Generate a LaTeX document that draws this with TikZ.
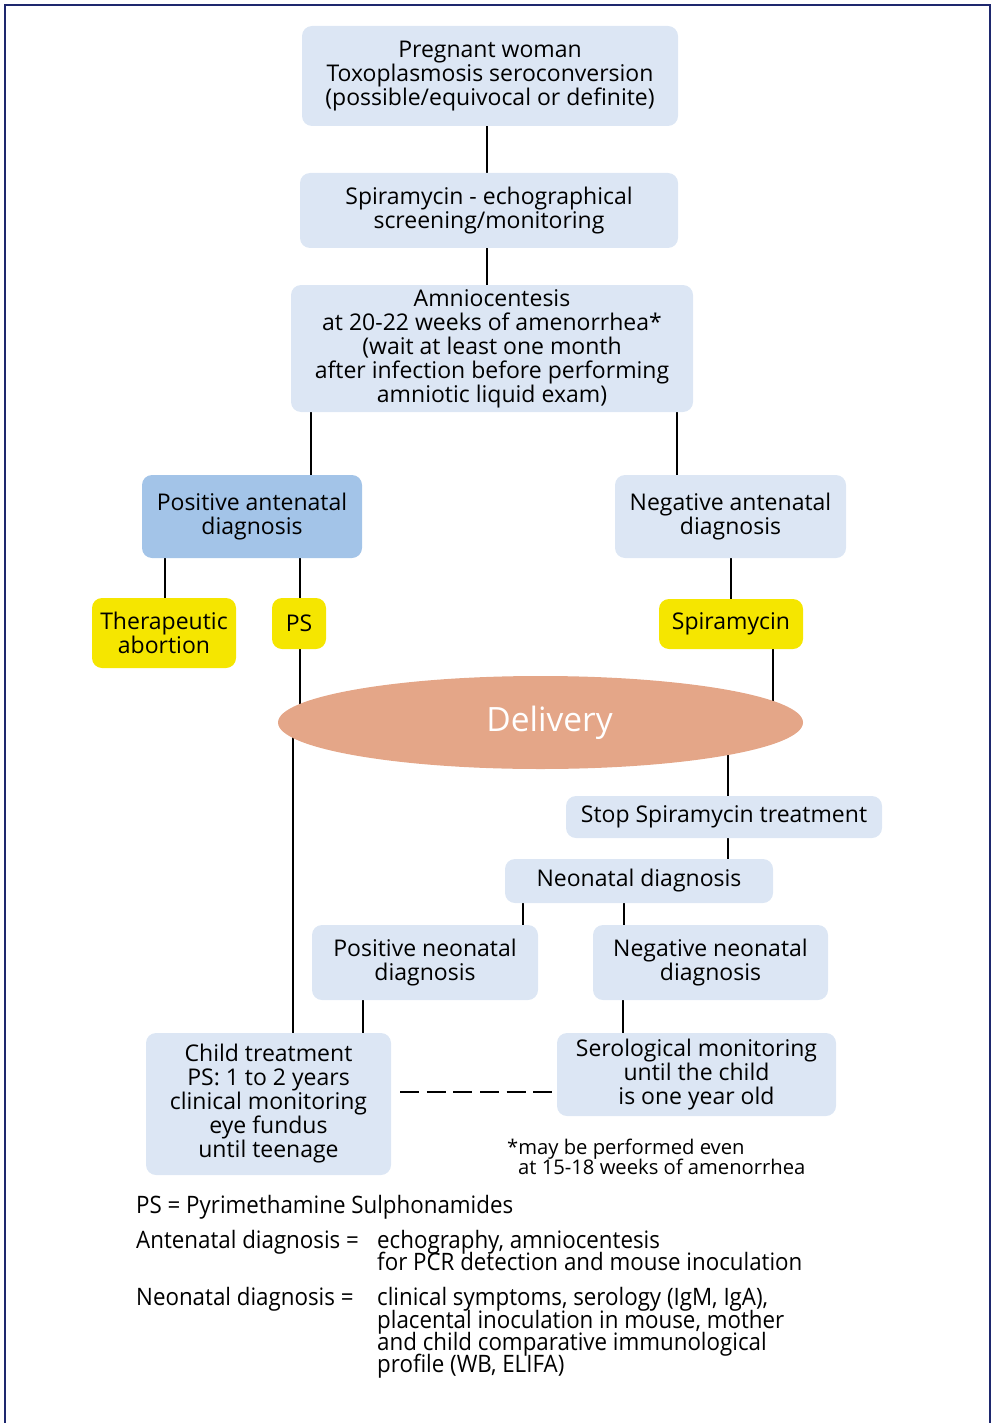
\documentclass[tikz,border=0pt]{standalone}
\usepackage{fontspec}
\setmainfont{Open Sans}
\newfontfamily\legendfont{Open Sans}[FakeStretch=0.93]
\usetikzlibrary{shapes.geometric}
\pgfdeclarelayer{background}
\pgfsetlayers{background,main}
\definecolor{lblue}{RGB}{220,230,244}
\definecolor{mblue}{RGB}{163,196,232}
\definecolor{yel}{RGB}{245,230,0}
\definecolor{salmon}{RGB}{228,166,136}
\definecolor{navy}{RGB}{30,40,110}
\begin{document}
\begin{tikzpicture}[x=1pt,y=-1pt,
  box/.style={fill=lblue, rounded corners=10pt, align=center, inner sep=0pt,
    font=\fontsize{23}{24}\selectfont},
  pbox/.style={box, fill=mblue},
  ybox/.style={box, fill=yel},
  conn/.style={draw=black, line width=1.8pt},
  legtext/.style={anchor=base west, inner sep=0pt, font=\legendfont\fontsize{24}{22.5}\selectfont},
  notetext/.style={anchor=base west, inner sep=0pt, font=\fontsize{20.2}{20}\selectfont}
]
\useasboundingbox (0,0) rectangle (995,1423);
\draw[navy, line width=1.6pt] (5,1430) -- (5,5) -- (990,5) -- (990,1430);

% boxes
\node[box, minimum width=376pt, minimum height=100pt] (b1) at (490,76)
  {Pregnant woman\\Toxoplasmosis seroconversion\\(possible/equivocal or definite)};
\node[box, minimum width=378pt, minimum height=75pt] (b2) at (489,210.5)
  {Spiramycin - echographical\\screening/monitoring};
\node[box, minimum width=402pt, minimum height=127pt] (b3) at (492,348.5)
  {Amniocentesis\\at 20-22 weeks of amenorrhea*\\(wait at least one month\\after infection before performing\\amniotic liquid exam)};
\node[pbox, minimum width=220pt, minimum height=83pt] (pos) at (252,516.5)
  {Positive antenatal\\diagnosis};
\node[box, minimum width=231pt, minimum height=83pt] (neg) at (730.5,516.5)
  {Negative antenatal\\diagnosis};
\node[ybox, minimum width=144pt, minimum height=70pt] (ta) at (164,633)
  {Therapeutic\\abortion};
\node[ybox, minimum width=54pt, minimum height=51pt] (ps) at (299,623.5) {PS};
\node[ybox, minimum width=144pt, minimum height=50pt] (spi) at (731,624) {Spiramycin};
\node[ellipse, fill=salmon, minimum width=525pt, minimum height=93pt, inner sep=0pt,
  text=white, font=\fontsize{33.5}{36}\selectfont] (del) at (540.5,722.5) {\hspace{18pt}Delivery};
\node[box, minimum width=316pt, minimum height=42pt] (stop) at (724,817)
  {Stop Spiramycin treatment};
\node[box, minimum width=268pt, minimum height=44pt] (neo) at (639,881)
  {Neonatal diagnosis};
\node[box, minimum width=226pt, minimum height=75pt] (pneo) at (425,962.5)
  {Positive neonatal\\diagnosis};
\node[box, minimum width=235pt, minimum height=75pt] (nneo) at (710.5,962.5)
  {Negative neonatal\\diagnosis};
\node[box, minimum width=245pt, minimum height=142pt] (child) at (268.5,1104)
  {Child treatment\\PS: 1 to 2 years\\clinical monitoring\\eye fundus\\until teenage};
\node[box, minimum width=279pt, minimum height=83pt] (sero) at (696.5,1074.5)
  {Serological monitoring\\until the child\\is one year old};

% x positions of connectors
\coordinate (x487) at (487,0);
\coordinate (x311) at (311,0);
\coordinate (x677) at (677,0);
\coordinate (x165) at (165,0);
\coordinate (x300) at (300,0);
\coordinate (x731) at (731,0);
\coordinate (x773) at (773,0);
\coordinate (x293) at (293,0);
\coordinate (x728) at (728,0);
\coordinate (x523) at (523,0);
\coordinate (x624) at (624,0);
\coordinate (x363) at (363,0);
\coordinate (x623) at (623,0);
\coordinate (y1092) at (0,1092);

\begin{pgfonlayer}{background}
\draw[conn] (b1.south -| x487) -- (b2.north -| x487);
\draw[conn] (b2.south -| x487) -- (b3.north -| x487);
\draw[conn] (b3.south -| x311) -- (pos.north -| x311);
\draw[conn] (b3.south -| x677) -- (neg.north -| x677);
\draw[conn] (pos.south -| x165) -- (ta.north -| x165);
\draw[conn] (pos.south -| x300) -- (ps.north -| x300);
\draw[conn] (neg.south -| x731) -- (spi.north -| x731);
\draw[conn] (ps.south -| x300) -- (del.center -| x300);
\draw[conn] (spi.south -| x773) -- (del.center -| x773);
\draw[conn] (del.center -| x293) -- (child.north -| x293);
\draw[conn] (del.center -| x728) -- (stop.north -| x728);
\draw[conn] (stop.south -| x728) -- (neo.north -| x728);
\draw[conn] (neo.south -| x523) -- (pneo.north -| x523);
\draw[conn] (neo.south -| x624) -- (nneo.north -| x624);
\draw[conn] (pneo.south -| x363) -- (child.north -| x363);
\draw[conn] (nneo.south -| x623) -- (sero.north -| x623);
\end{pgfonlayer}
\draw[conn, dash pattern=on 19pt off 7.6pt, shorten <=9pt, shorten >=5pt]
  (child.east |- y1092) -- (sero.west |- y1092);

% footnote
\node[notetext] (fn1) at (507,1154) {*may be performed even};
\node[notetext] (fn2) at (518,1174) {at 15-18 weeks of amenorrhea};

% legend
\node[legtext] (l1) at (136,1213) {PS = Pyrimethamine Sulphonamides};
\node[legtext] (l2) at (136,1248) {Antenatal diagnosis =};
\node[legtext] (l3) at (377,1248) {echography, amniocentesis};
\node[legtext] (l4) at (377,1270) {for PCR detection and mouse inoculation};
\node[legtext] (l5) at (136,1305) {Neonatal diagnosis =};
\node[legtext] (l6) at (377,1305) {clinical symptoms, serology (IgM, IgA),};
\node[legtext] (l7) at (377,1328) {placental inoculation in mouse, mother};
\node[legtext] (l8) at (377,1350) {and child comparative immunological};
\node[legtext] (l9) at (377,1372) {profile (WB, ELIFA)};
\end{tikzpicture}
\end{document}
